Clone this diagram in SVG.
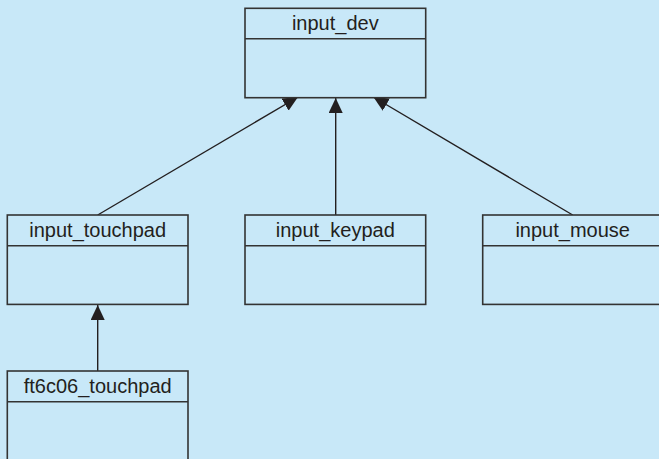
<svg xmlns="http://www.w3.org/2000/svg" width="659" height="459" viewBox="0 0 659 459">
  <style>
    .box { fill: #c8e8f8; stroke: #333333; stroke-width: 1.6; }
    .div { stroke: #333333; stroke-width: 1.6; }
    .lbl { font-family: "Liberation Sans", Arial, sans-serif; font-size: 20px; fill: #231f20; text-anchor: middle; }
    .edge { stroke: #231f20; stroke-width: 1.4; fill: none; marker-end: url(#tri); }
  </style>
  <defs>
    <!-- filled triangular inheritance head; the tip sits on the end point -->
    <marker id="tri" viewBox="0 0 15 14" refX="15" refY="7" markerWidth="15" markerHeight="14" markerUnits="userSpaceOnUse" orient="auto">
      <path d="M0,0 L15,7 L0,14 Z" fill="#231f20"/>
    </marker>
  </defs>
  <rect width="659" height="459" fill="#c8e8f8"/>

  <!-- drawn before the boxes so the box fill hides the tips that overlap a border -->
  <g id="connectors">
    <line class="edge" x1="97.7" y1="215" x2="298" y2="97"/>
    <line class="edge" x1="335.7" y1="215" x2="335.7" y2="98"/>
    <line class="edge" x1="572.7" y1="215" x2="373.4" y2="97"/>
    <line class="edge" x1="97.7" y1="371" x2="97.7" y2="305"/>
  </g>

  <g id="input_dev">
    <rect class="box" x="245" y="8.3" width="180.7" height="89.4"/>
    <line class="div" x1="245" y1="38.7" x2="425.7" y2="38.7"/>
    <text class="lbl" x="335.3" y="30.3">input_dev</text>
  </g>

  <g id="input_touchpad">
    <rect class="box" x="7.3" y="215" width="180.7" height="89.4"/>
    <line class="div" x1="7.3" y1="245.7" x2="188" y2="245.7"/>
    <text class="lbl" x="97.7" y="236.8">input_touchpad</text>
  </g>

  <g id="input_keypad">
    <rect class="box" x="245" y="215" width="180.7" height="89.4"/>
    <line class="div" x1="245" y1="245.7" x2="425.7" y2="245.7"/>
    <text class="lbl" x="335.3" y="236.8">input_keypad</text>
  </g>

  <g id="input_mouse">
    <rect class="box" x="482.7" y="215" width="180.7" height="89.4"/>
    <line class="div" x1="482.7" y1="245.7" x2="663.4" y2="245.7"/>
    <text class="lbl" x="572.7" y="236.8">input_mouse</text>
  </g>

  <g id="ft6c06_touchpad">
    <rect class="box" x="7.3" y="371" width="180.7" height="100"/>
    <line class="div" x1="7.3" y1="401.7" x2="188" y2="401.7"/>
    <text class="lbl" x="97.7" y="392.8">ft6c06_touchpad</text>
  </g>
</svg>
